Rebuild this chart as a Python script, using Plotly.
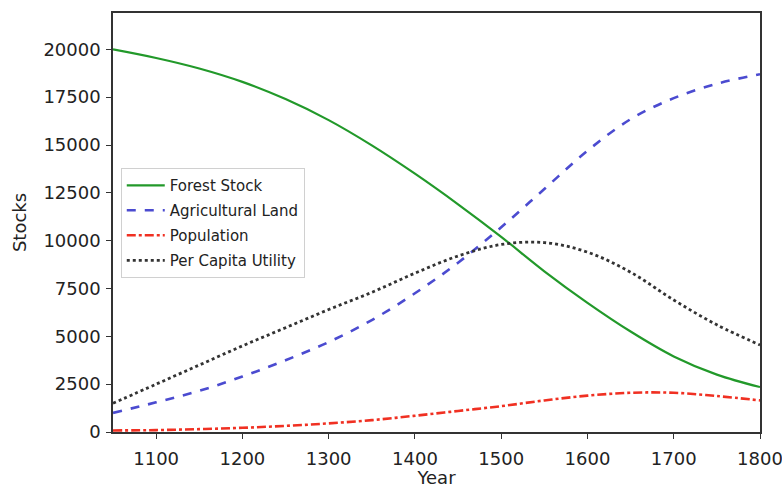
import plotly.graph_objects as go

years = [1050, 1100, 1150, 1200, 1250, 1300, 1350, 1400, 1450, 1500,
         1550, 1600, 1650, 1700, 1750, 1800]
forest = [20000, 19550, 19000, 18300, 17400, 16300, 14980, 13500, 11900, 10200,
          8400, 6750, 5250, 3950, 3000, 2350]
agri = [1000, 1550, 2150, 2900, 3750, 4700, 5850, 7250, 8850, 10700,
        12700, 14700, 16350, 17450, 18200, 18700]
population = [80, 100, 150, 220, 320, 450, 620, 850, 1100, 1350,
              1650, 1900, 2050, 2050, 1880, 1650]
utility = [1500, 2500, 3500, 4500, 5450, 6400, 7300, 8300, 9200, 9800,
           9900, 9400, 8350, 6900, 5600, 4550]

y_ticks = [0, 2500, 5000, 7500, 10000, 12500, 15000, 17500, 20000]
y_labels = ["0", "2500", "5000", "7500", "10000", "12500", "15000", "17500", "20000"]
x_ticks = [1100, 1200, 1300, 1400, 1500, 1600, 1700, 1800]
x_labels = ["1100", "1200", "1300", "1400", "1500", "1600", "1700", "1800"]

fig = go.Figure()
series = [
    ("Forest Stock", forest, "#22992a", "solid", 2.2),
    ("Agricultural Land", agri, "#4b4bd0", "dash", 2.6),
    ("Population", population, "#f03022", "dashdot", 2.6),
    ("Per Capita Utility", utility, "#333333", "dot", 2.8),
]
for name, vals, color, dash, w in series:
    fig.add_trace(go.Scatter(
        x=years, y=vals, mode="lines", name=name, legendgroup=name,
        line=dict(color=color, dash=dash, width=w, shape="spline"),
    ))

axis_common = dict(
    showline=True, linecolor="#333333", linewidth=1.5, mirror=True,
    ticks="outside", ticklen=5, tickwidth=1.2, tickcolor="#333333",
    showgrid=False, zeroline=False, automargin=False,
    ticklabeloverflow="allow",
    tickfont=dict(family="DejaVu Sans", size=18, color="#222222"),
    title_font=dict(family="DejaVu Sans", size=18, color="#222222"),
)

fig.update_layout(
    width=782, height=488,
    margin=dict(l=113, r=22, t=13, b=56),
    paper_bgcolor="white", plot_bgcolor="white",
    xaxis=dict(range=[1050, 1800], tickvals=x_ticks, ticktext=x_labels,
               ticklabelstandoff=5,
               title=dict(text="Year", standoff=6), **axis_common),
    yaxis=dict(range=[0, 21900], tickvals=y_ticks, ticktext=y_labels,
               ticklabelstandoff=2,
               title=dict(text="Stocks", standoff=12), **axis_common),
    legend=dict(
        x=0.012, y=0.63, xanchor="left", yanchor="top",
        bgcolor="rgba(255,255,255,0.85)", bordercolor="#d0d0d0", borderwidth=1,
        font=dict(family="DejaVu Sans", size=15, color="#222222"),
        tracegroupgap=2.5, traceorder="grouped", itemwidth=38,
    ),
)

fig.write_html("out.html", config={"displayModeBar": False},
               post_script="document.body.style.margin='0';")
